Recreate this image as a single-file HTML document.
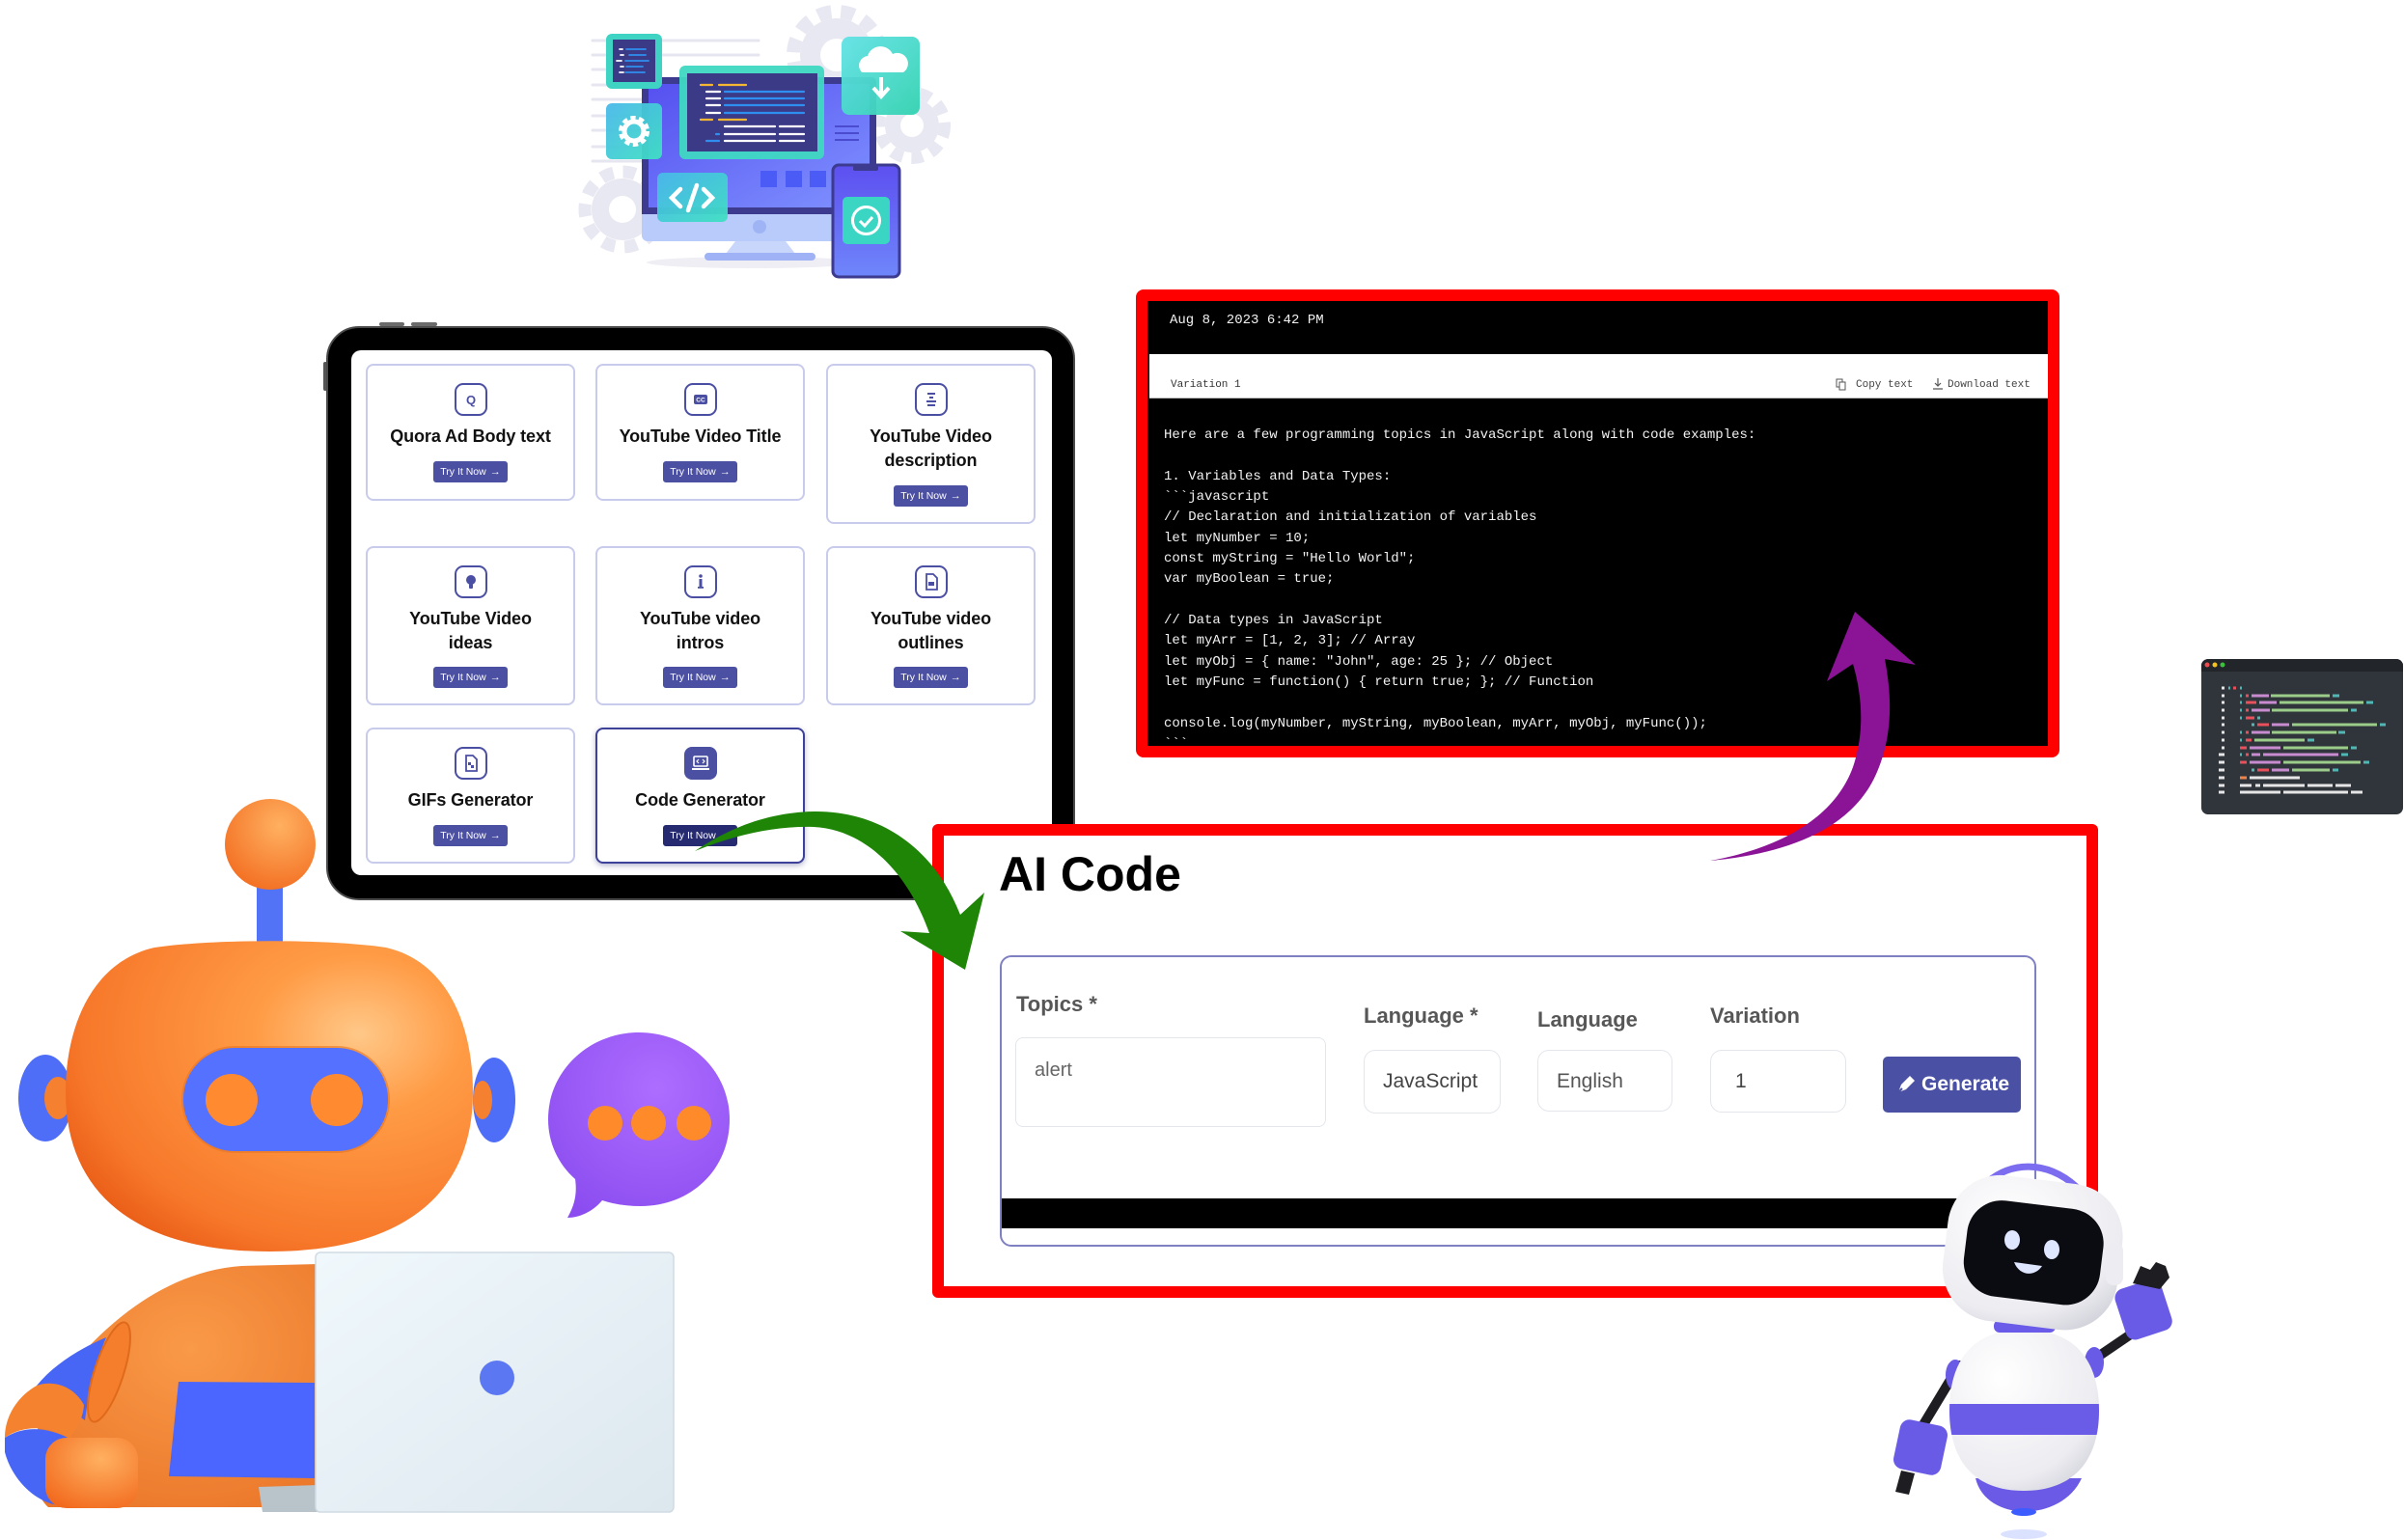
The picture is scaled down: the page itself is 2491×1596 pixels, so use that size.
<!DOCTYPE html>
<html><head><meta charset="utf-8">
<style>
html,body{margin:0;padding:0;background:#fff;}
body{width:2491px;height:1596px;position:relative;overflow:hidden;font-family:"Liberation Sans",sans-serif;}
.abs{position:absolute;}
.card{position:absolute;width:217px;box-sizing:border-box;border:2px solid #c9cbec;border-radius:8px;background:#fff;}
.card .ic{position:absolute;top:18px;left:50%;margin-left:-17px;width:34px;height:34px;}
.card .tt{position:absolute;top:61px;left:0;width:100%;text-align:center;font-weight:bold;font-size:18px;line-height:25px;color:#111;letter-spacing:-0.1px;}
.card .bt{position:absolute;left:50%;margin-left:-38.5px;width:77px;height:22px;background:#4c50a2;border-radius:3px;color:#fff;font-size:10.5px;line-height:22px;text-align:center;white-space:nowrap;}
.card .bt b{font-size:11px;margin-left:4px;}
.lbl{position:absolute;font-weight:bold;font-size:22px;line-height:26px;color:#575757;white-space:nowrap;}
.fbox{position:absolute;box-sizing:border-box;border:1.5px solid #e4e6ec;border-radius:12px;background:#fff;font-size:21px;color:#444;line-height:64px;padding-left:19px;white-space:nowrap;}
pre{margin:0;}
</style></head>
<body>

<!-- Tablet -->
<div class="abs" style="left:393px;top:334px;width:26px;height:4px;background:#6b6b6b;border-radius:2px;"></div>
<div class="abs" style="left:426px;top:334px;width:27px;height:4px;background:#6b6b6b;border-radius:2px;"></div>
<div class="abs" style="left:335px;top:375px;width:4px;height:30px;background:#555;border-radius:2px;"></div>
<div class="abs" style="left:338px;top:338px;width:772px;height:591px;background:#000;border-radius:34px;border:2px solid #4a4a4a;"></div>
<div class="abs" style="left:364px;top:363px;width:726px;height:544px;background:#fff;border-radius:10px;"></div>

<!-- Cards -->
<div class="card" style="left:379px;top:377px;height:142px;">
  <svg class="ic" viewBox="0 0 34 34"><rect x="1" y="1" width="32" height="32" rx="8" fill="none" stroke="#4b4fa3" stroke-width="2"/><text x="17" y="22" text-anchor="middle" font-family="Liberation Sans" font-weight="bold" font-size="13" fill="#4b4fa3">Q</text></svg>
  <div class="tt">Quora Ad Body text</div>
  <div class="bt" style="top:99px;">Try It Now<b>→</b></div>
</div>
<div class="card" style="left:617px;top:377px;height:142px;">
  <svg class="ic" viewBox="0 0 34 34"><rect x="1" y="1" width="32" height="32" rx="8" fill="none" stroke="#4b4fa3" stroke-width="2"/><rect x="10" y="12" width="14" height="10" rx="2" fill="#4b4fa3"/><text x="17" y="19.5" text-anchor="middle" font-family="Liberation Sans" font-weight="bold" font-size="6.5" fill="#fff">CC</text></svg>
  <div class="tt">YouTube Video Title</div>
  <div class="bt" style="top:99px;">Try It Now<b>→</b></div>
</div>
<div class="card" style="left:856px;top:377px;height:166px;">
  <svg class="ic" viewBox="0 0 34 34"><rect x="1" y="1" width="32" height="32" rx="8" fill="none" stroke="#4b4fa3" stroke-width="2"/><path d="M13 11h8M15 15h4M12 19h10M13 23h8" stroke="#4b4fa3" stroke-width="2"/></svg>
  <div class="tt">YouTube Video<br>description</div>
  <div class="bt" style="top:124px;">Try It Now<b>→</b></div>
</div>
<div class="card" style="left:379px;top:566px;height:165px;">
  <svg class="ic" viewBox="0 0 34 34"><rect x="1" y="1" width="32" height="32" rx="8" fill="none" stroke="#4b4fa3" stroke-width="2"/><circle cx="17" cy="15" r="5" fill="#4b4fa3"/><rect x="15" y="19" width="4" height="5" rx="1" fill="#4b4fa3"/></svg>
  <div class="tt">YouTube Video<br>ideas</div>
  <div class="bt" style="top:123px;">Try It Now<b>→</b></div>
</div>
<div class="card" style="left:617px;top:566px;height:165px;">
  <svg class="ic" viewBox="0 0 34 34"><rect x="1" y="1" width="32" height="32" rx="8" fill="none" stroke="#4b4fa3" stroke-width="2"/><circle cx="17" cy="11" r="1.8" fill="#4b4fa3"/><rect x="15.5" y="14" width="3" height="9" fill="#4b4fa3"/><rect x="14" y="22" width="6" height="1.8" fill="#4b4fa3"/></svg>
  <div class="tt">YouTube video<br>intros</div>
  <div class="bt" style="top:123px;">Try It Now<b>→</b></div>
</div>
<div class="card" style="left:856px;top:566px;height:165px;">
  <svg class="ic" viewBox="0 0 34 34"><rect x="1" y="1" width="32" height="32" rx="8" fill="none" stroke="#4b4fa3" stroke-width="2"/><path d="M12 9h7l4 4v12h-11z" fill="none" stroke="#4b4fa3" stroke-width="1.8"/><rect x="14" y="17" width="6" height="4" fill="#4b4fa3"/></svg>
  <div class="tt">YouTube video<br>outlines</div>
  <div class="bt" style="top:123px;">Try It Now<b>→</b></div>
</div>
<div class="card" style="left:379px;top:754px;height:141px;">
  <svg class="ic" viewBox="0 0 34 34"><rect x="1" y="1" width="32" height="32" rx="8" fill="none" stroke="#4b4fa3" stroke-width="2"/><path d="M12 9h7l4 4v12h-11z" fill="none" stroke="#4b4fa3" stroke-width="1.8"/><path d="M14 16h3v3h-3zM17 19h3v3h-3z" fill="#4b4fa3"/></svg>
  <div class="tt">GIFs Generator</div>
  <div class="bt" style="top:99px;">Try It Now<b>→</b></div>
</div>
<div class="card" style="left:617px;top:754px;height:141px;border-color:#3d4199;box-shadow:0 2px 6px rgba(40,40,120,.35);">
  <svg class="ic" viewBox="0 0 34 34"><rect x="0" y="0" width="34" height="34" rx="8" fill="#4c50a2"/><rect x="10" y="10" width="14" height="10" rx="1" fill="none" stroke="#fff" stroke-width="1.6"/><path d="M8 23h18" stroke="#fff" stroke-width="2"/><path d="M15 13l-2 2 2 2M19 13l2 2-2 2" stroke="#fff" stroke-width="1.2" fill="none"/></svg>
  <div class="tt">Code Generator</div>
  <div class="bt" style="top:99px;background:#262a70;">Try It Now<b>→</b></div>
</div>

<!-- Code output red box -->
<div class="abs" style="left:1177px;top:300px;width:957px;height:485px;box-sizing:border-box;border:12px solid #ff0000;border-radius:8px;background:#000;overflow:hidden;">
  <div class="abs" style="left:23px;top:11px;font:14px/18px 'Liberation Mono',monospace;color:#f2f2f2;white-space:pre;">Aug 8, 2023 6:42 PM</div>
  <div class="abs" style="left:2px;top:55px;width:931px;height:45px;background:#fff;border-bottom:1px solid #bbb;"></div>
  <div class="abs" style="left:24px;top:79px;font:11px/16px 'Liberation Mono',monospace;color:#333;white-space:pre;">Variation 1</div>
  <svg class="abs" style="left:713px;top:80px;" width="12" height="14" viewBox="0 0 12 14"><rect x="1" y="1" width="6" height="8" fill="none" stroke="#555" stroke-width="1"/><rect x="4" y="4" width="6" height="8" fill="#fff" stroke="#555" stroke-width="1"/></svg>
  <div class="abs" style="left:734px;top:79px;font:11px/16px 'Liberation Mono',monospace;color:#444;white-space:pre;">Copy text</div>
  <svg class="abs" style="left:813px;top:79px;" width="12" height="14" viewBox="0 0 12 14"><path d="M6 1v8M3 6l3 3 3-3M1 12h10" stroke="#555" stroke-width="1.2" fill="none"/></svg>
  <div class="abs" style="left:829px;top:79px;font:11px/16px 'Liberation Mono',monospace;color:#444;white-space:pre;">Download text</div>
  <pre class="abs" style="left:17px;top:129px;font:14px/21.33px 'Liberation Mono',monospace;color:#f2f2f2;">Here are a few programming topics in JavaScript along with code examples:

1. Variables and Data Types:
&#96;&#96;&#96;javascript
// Declaration and initialization of variables
let myNumber = 10;
const myString = "Hello World";
var myBoolean = true;

// Data types in JavaScript
let myArr = [1, 2, 3]; // Array
let myObj = { name: "John", age: 25 }; // Object
let myFunc = function() { return true; }; // Function

console.log(myNumber, myString, myBoolean, myArr, myObj, myFunc());
&#96;&#96;&#96;</pre>
</div>

<!-- AI Code red box -->
<div class="abs" style="left:966px;top:854px;width:1208px;height:491px;box-sizing:border-box;border:12px solid #ff0000;border-radius:6px;background:#fff;"></div>
<div class="abs" style="left:1035px;top:876px;font:bold 50px/60px 'Liberation Sans',sans-serif;color:#000;white-space:nowrap;">AI Code</div>
<div class="abs" style="left:1036px;top:990px;width:1074px;height:302px;box-sizing:border-box;border:2px solid #7e80c2;border-radius:12px;background:#fff;"></div>
<div class="abs" style="left:1038px;top:1242px;width:1070px;height:31px;background:#000;"></div>
<div class="lbl" style="left:1053px;top:1028px;">Topics *</div>
<div class="lbl" style="left:1413px;top:1040px;">Language *</div>
<div class="lbl" style="left:1593px;top:1044px;">Language</div>
<div class="lbl" style="left:1772px;top:1040px;">Variation</div>
<div class="fbox" style="left:1052px;top:1075px;width:322px;height:93px;border-radius:8px;line-height:26px;padding-top:20px;color:#666;font-size:20px;">alert</div>
<div class="fbox" style="left:1413px;top:1088px;width:142px;height:66px;">JavaScript</div>
<div class="fbox" style="left:1593px;top:1088px;width:140px;height:64px;color:#555;">English</div>
<div class="fbox" style="left:1772px;top:1088px;width:141px;height:65px;padding-left:25px;">1</div>
<div class="abs" style="left:1951px;top:1095px;width:143px;height:58px;background:#4a50a3;border-radius:5px;color:#fff;font-weight:bold;font-size:21px;line-height:58px;white-space:nowrap;">
  <svg class="abs" style="left:12px;top:17px;" width="24" height="24" viewBox="0 0 24 24"><path d="M4 20l3-8 9-9 5 5-9 9z" fill="#fff"/><path d="M4 20l4-4" stroke="#4a50a3" stroke-width="2"/></svg>
  <span style="position:absolute;left:40px;">Generate</span>
</div>

<!-- Graphics overlay -->
<svg class="abs" style="left:0;top:0;" width="2491" height="1596" viewBox="0 0 2491 1596">
<defs>
  <linearGradient id="scr" x1="0" y1="0" x2="1" y2="1"><stop offset="0" stop-color="#5550f0"/><stop offset="1" stop-color="#7f92ff"/></linearGradient>
  <linearGradient id="teal" x1="0" y1="0" x2="1" y2="1"><stop offset="0" stop-color="#49b8ea"/><stop offset="1" stop-color="#3fe0c2"/></linearGradient>
  <linearGradient id="teal2" x1="0" y1="0" x2="1" y2="1"><stop offset="0" stop-color="#62e2e6"/><stop offset="1" stop-color="#33d2b0"/></linearGradient>
  <linearGradient id="phone" x1="0" y1="0" x2="0" y2="1"><stop offset="0" stop-color="#5d4ff0"/><stop offset="1" stop-color="#6f86fb"/></linearGradient>
  <radialGradient id="org" cx="0.72" cy="0.3" r="0.85"><stop offset="0" stop-color="#ffc888"/><stop offset="0.3" stop-color="#ff9b45"/><stop offset="0.8" stop-color="#f7782a"/><stop offset="1" stop-color="#e85a15"/></radialGradient>
  <radialGradient id="org2" cx="0.6" cy="0.3" r="0.8"><stop offset="0" stop-color="#ffb060"/><stop offset="1" stop-color="#f26a1e"/></radialGradient>
  <radialGradient id="org3" cx="0.55" cy="0.35" r="0.8"><stop offset="0" stop-color="#f99a48"/><stop offset="1" stop-color="#ea7428"/></radialGradient>
  <radialGradient id="purp" cx="0.6" cy="0.3" r="0.8"><stop offset="0" stop-color="#ad6dff"/><stop offset="1" stop-color="#8b4cf0"/></radialGradient>
  <linearGradient id="lap" x1="0" y1="0" x2="1" y2="1"><stop offset="0" stop-color="#f0f8fc"/><stop offset="1" stop-color="#dce7ee"/></linearGradient>
  <radialGradient id="wht" cx="0.35" cy="0.3" r="0.9"><stop offset="0" stop-color="#ffffff"/><stop offset="0.7" stop-color="#ececf1"/><stop offset="1" stop-color="#c9c9d3"/></radialGradient>
  <clipPath id="bodyclip"><path d="M2097,1378 C2152,1378 2175,1412 2175,1462 C2175,1512 2150,1545 2097,1545 C2044,1545 2020,1512 2020,1462 C2020,1412 2042,1378 2097,1378 Z"/></clipPath>
</defs>

<!-- ===== Top illustration ===== -->
<g>
  <circle cx="867" cy="57" r="38" fill="#e8e8f2"/>
  <circle cx="867" cy="57" r="45" fill="none" stroke="#e8e8f2" stroke-width="14" stroke-dasharray="14 10"/>
  <circle cx="867" cy="57" r="17" fill="#fff"/>
  <circle cx="945" cy="130" r="28" fill="#e8e8f2"/>
  <circle cx="945" cy="130" r="34" fill="none" stroke="#e8e8f2" stroke-width="12" stroke-dasharray="12 9"/>
  <circle cx="945" cy="130" r="12" fill="#fff"/>
  <circle cx="645" cy="217" r="32" fill="#e8e8f2"/>
  <circle cx="645" cy="217" r="39" fill="none" stroke="#e8e8f2" stroke-width="13" stroke-dasharray="13 10"/>
  <circle cx="645" cy="217" r="14" fill="#fff"/>
  <g stroke="#e6e6f0" stroke-width="3" stroke-linecap="round">
    <path d="M614 42h172M614 57h172M614 72h60M614 88h60M614 103h60M614 120h60M614 135h60M614 152h60M614 167h60"/>
  </g>
  <ellipse cx="780" cy="272" rx="110" ry="6" fill="#eeeef4"/>
  <rect x="665" y="80" width="243" height="148" rx="5" fill="#3c3b8f"/>
  <rect x="672" y="87" width="229" height="128" fill="url(#scr)"/>
  <path d="M665 222h243v22a6 6 0 0 1-6 6h-231a6 6 0 0 1-6-6z" fill="#b9cbfa"/>
  <circle cx="787" cy="235" r="7" fill="#9fb4f5"/>
  <path d="M762 250h52l10 13h-72z" fill="#c8d6fb"/>
  <rect x="730" y="262" width="115" height="8" rx="4" fill="#9fb2f5"/>
  <rect x="788" y="177" width="17" height="17" fill="#4a5cf5"/>
  <rect x="814" y="177" width="17" height="17" fill="#4a5cf5"/>
  <rect x="839" y="177" width="17" height="17" fill="#4a5cf5"/>
  <path d="M865 131h25M865 138h25M865 145h25" stroke="#4b4bd0" stroke-width="2"/>
  <rect x="704" y="68" width="150" height="97" rx="6" fill="#3fd8c2" opacity="0.95"/>
  <rect x="712" y="76" width="135" height="81" fill="#3b3a86"/>
  <g stroke-width="2.2" stroke-linecap="round">
    <path d="M726 88h12M745 88h28M726 124h12M745 124h28" stroke="#f5b731"/>
    <path d="M732 95h14M732 102h14M732 109h14M732 117h14M751 131h52M808 131h25M751 139h52M808 139h25M751 146h52M808 146h25" stroke="#fff"/>
    <path d="M751 95h82M751 102h82M751 109h82M751 117h82M742 139h3M732 146h13" stroke="#2f8ff0"/>
  </g>
  <rect x="628" y="35" width="58" height="57" rx="6" fill="#3ed3c3"/>
  <rect x="635" y="41" width="44" height="44" fill="#3b3a86"/>
  <g stroke-width="1.8" stroke-linecap="round">
    <path d="M642 51h3M643 57h3M639 63h5M643 69h3M642 75h4" stroke="#fff"/>
    <path d="M649 51h20M652 57h17M648 63h24M649 69h17M648 75h20" stroke="#2f8ff0"/>
  </g>
  <rect x="628" y="107" width="58" height="58" rx="6" fill="url(#teal)" opacity="0.95"/>
  <circle cx="657" cy="136" r="13" fill="none" stroke="#fff" stroke-width="6" stroke-dasharray="5 3.2"/>
  <circle cx="657" cy="136" r="10" fill="none" stroke="#fff" stroke-width="5"/>
  <rect x="681" y="179" width="73" height="51" rx="6" fill="url(#teal)" opacity="0.95"/>
  <path d="M705 196l-9 9 9 9M729 196l9 9-9 9M722 192l-9 26" stroke="#fff" stroke-width="4.5" fill="none" stroke-linecap="round"/>
  <rect x="872" y="38" width="81" height="81" rx="8" fill="url(#teal2)" opacity="0.95"/>
  <path d="M893 75a10 10 0 0 1 6-17a14 14 0 0 1 26-2a11 11 0 0 1 11 19z" fill="#fff"/>
  <path d="M913 80v18M905 91l8 9 8-9" stroke="#fff" stroke-width="4" fill="none"/>
  <rect x="863" y="171" width="69" height="116" rx="6" fill="url(#phone)" stroke="#3c3b8f" stroke-width="3"/>
  <rect x="884" y="172" width="26" height="5" rx="2" fill="#3c3b8f"/>
  <rect x="873" y="204" width="49" height="49" rx="5" fill="#3ad6c3"/>
  <circle cx="897.5" cy="228.5" r="14" stroke="#fff" stroke-width="3" fill="none"/>
  <path d="M891 229l5 5 8-9" stroke="#fff" stroke-width="3" fill="none"/>
</g>

<!-- ===== Orange robot ===== -->
<g>
  <rect x="266" y="915" width="27" height="72" fill="#5273f5"/>
  <circle cx="280" cy="875" r="47" fill="url(#org2)"/>
  <ellipse cx="47" cy="1138" rx="28" ry="45" fill="#4f6ef7"/>
  <ellipse cx="60" cy="1138" rx="14" ry="22" fill="#f58030"/>
  <ellipse cx="512" cy="1140" rx="22" ry="44" fill="#4f6ef7"/>
  <ellipse cx="500" cy="1140" rx="10" ry="20" fill="#f58030"/>
  <path d="M160,982 C220,973 340,973 400,982 C462,996 490,1060 490,1132 C490,1236 420,1297 279,1297 C140,1297 68,1236 68,1132 C68,1060 98,996 160,982 Z" fill="url(#org)"/>
  <rect x="188" y="1084" width="216" height="111" rx="55" fill="#e8741f" opacity="0.6"/>
  <rect x="190" y="1086" width="212" height="107" rx="53" fill="#5472ff"/>
  <circle cx="240" cy="1140" r="27" fill="#ff8a30"/>
  <circle cx="349" cy="1140" r="27" fill="#ff8a30"/>
  <!-- body -->
  <path d="M50,1562 C25,1540 30,1465 70,1420 C110,1372 170,1318 250,1312 L330,1310 L330,1562 Z" fill="url(#org3)"/>
  <path d="M185,1432 L326,1433 L326,1532 L175,1530 Z" fill="#4a66ff"/>
  <!-- arm -->
  <path d="M110,1386 C82,1398 56,1414 38,1436 L88,1472 C92,1440 100,1410 110,1386 Z" fill="#4866f6"/>
  <g transform="rotate(18 113 1422)"><ellipse cx="113" cy="1422" rx="15" ry="54" fill="#f47e2c" stroke="#e06a1c" stroke-width="2"/></g>
  <path d="M38,1436 C55,1430 76,1436 87,1456 C86,1470 80,1480 72,1490 C50,1478 25,1476 5,1490 C5,1466 20,1446 38,1436 Z" fill="#f5822f"/>
  <path d="M5,1490 C25,1477 50,1479 72,1491 L60,1560 C35,1556 12,1532 5,1505 Z" fill="#4866f6"/>
  <rect x="47" y="1490" width="96" height="73" rx="22" fill="url(#org2)"/>
  <!-- laptop -->
  <path d="M268,1541 L330,1539 L330,1567 L272,1567 Z" fill="#b9c3ca"/>
  <rect x="327" y="1298" width="371" height="269" rx="5" fill="url(#lap)" stroke="#d0dbe3" stroke-width="1.5"/>
  <circle cx="515" cy="1428" r="18" fill="#5b78f2"/>
  <!-- speech bubble -->
  <path d="M662,1070 C715,1070 756,1110 756,1160 C756,1212 716,1250 664,1250 C650,1250 636,1248 624,1244 C614,1256 600,1262 588,1262 C596,1248 598,1236 596,1222 C578,1206 568,1184 568,1160 C568,1110 610,1070 662,1070 Z" fill="url(#purp)"/>
  <circle cx="627" cy="1164" r="18" fill="#ff8a2a"/>
  <circle cx="672" cy="1164" r="18" fill="#ff8a2a"/>
  <circle cx="719" cy="1164" r="18" fill="#ff8a2a"/>
</g>

<!-- ===== Small white robot ===== -->
<g>
  <ellipse cx="2097" cy="1590" rx="24" ry="5" fill="#dbe2ff"/>
  <line x1="2030" y1="1415" x2="1992" y2="1478" stroke="#1d1d22" stroke-width="10" stroke-linecap="round"/>
  <g transform="rotate(12 1990 1500)"><rect x="1965" y="1474" width="50" height="52" rx="10" fill="#6a5be6"/></g>
  <path d="M1970,1524 l-6,22 l14,3 l6,-22z" fill="#1d1d22"/>
  <line x1="2165" y1="1412" x2="2212" y2="1380" stroke="#1d1d22" stroke-width="10" stroke-linecap="round"/>
  <g transform="rotate(-18 2220 1357)"><rect x="2196" y="1330" width="50" height="55" rx="10" fill="#6a5be6"/></g>
  <path d="M2210,1330 l8,-18 l10,4 l6,-8 l10,4 l4,12 l-10,12z" fill="#1d1d22"/>
  <ellipse cx="2026" cy="1425" rx="10" ry="16" fill="#6a5be6"/>
  <ellipse cx="2170" cy="1412" rx="10" ry="16" fill="#6a5be6"/>
  <path d="M2047,1532 C2058,1578 2136,1578 2157,1532 Z" fill="#6a5ae6"/>
  <ellipse cx="2097" cy="1567" rx="13" ry="4" fill="#3d5cff"/>
  <path d="M2097,1378 C2152,1378 2175,1412 2175,1462 C2175,1512 2150,1545 2097,1545 C2044,1545 2020,1512 2020,1462 C2020,1412 2042,1378 2097,1378 Z" fill="url(#wht)"/>
  <g clip-path="url(#bodyclip)"><rect x="2010" y="1455" width="180" height="32" fill="#6b5ce8"/></g>
  <rect x="2066" y="1368" width="64" height="13" rx="6" fill="#6a5ce8"/>
  <path d="M2040,1265 C2045,1200 2150,1170 2192,1298" stroke="#7b6cf0" stroke-width="7" fill="none"/>
  <g transform="rotate(7 2105 1300)">
    <rect x="2015" y="1222" width="182" height="152" rx="55" fill="url(#wht)"/>
    <rect x="2036" y="1248" width="142" height="100" rx="36" fill="#0b0b12"/>
  </g>
  <rect x="2182" y="1288" width="18" height="44" rx="8" fill="#ececf2"/>
  <ellipse cx="2085" cy="1285" rx="8" ry="10" fill="#dfe6ff"/>
  <ellipse cx="2126" cy="1295" rx="8" ry="10" fill="#dfe6ff"/>
  <path d="M2087,1308 C2092,1322 2108,1324 2116,1312 Z" fill="#dfe6ff"/>
</g>

<!-- ===== Code thumbnail ===== -->
<g>
  <rect x="2281" y="683" width="209" height="161" rx="7" fill="#30343b"/>
  <path d="M2288,683 h195 a7 7 0 0 1 7 7 v6 h-209 v-6 a7 7 0 0 1 7-7z" fill="#22252a"/>
  <circle cx="2287" cy="689" r="2.5" fill="#ee4c4c"/>
  <circle cx="2295" cy="689" r="2.5" fill="#f3c221"/>
  <circle cx="2303" cy="689" r="2.5" fill="#3cc13c"/>
  <g stroke-width="3">
    <path stroke="#e6e6e6" d="M2302 713h3M2302 721h3M2302 728h3M2302 736h3M2302 744h3M2302 751h3M2302 759h3M2302 767h3M2302 775h3M2299 782h6M2299 790h6M2299 798h6M2299 806h6M2299 814h6M2299 821h6M2331 806h52M2321 814h12M2337 814h5M2345 814h43M2391 814h26M2420 814h16M2321 821h42M2366 821h67M2436 821h12"/>
    <path stroke="#4fb8b5" d="M2309 713h2M2321 713h2M2321 721h2M2417 721h7M2321 728h2M2452 728h7M2321 736h2M2436 736h6M2321 744h2M2339 744h3M2333 751h3M2466 751h6M2321 759h2M2423 759h7M2321 767h2M2391 767h7M2436 775h6M2321 782h2M2426 782h7M2449 790h6M2333 798h3M2417 798h6"/>
    <path stroke="#e8505b" d="M2314 713h3M2327 721h3M2327 728h11M2327 736h3M2327 744h9M2339 751h12M2327 759h3M2327 767h6M2321 775h7M2327 782h3M2321 790h7M2339 798h12"/>
    <path stroke="#c98bd0" d="M2333 721h18M2341 728h18M2333 736h19M2354 751h18M2333 759h19M2331 775h32M2333 782h9M2345 782h78M2331 790h32M2354 798h18"/>
    <path stroke="#9ccc8a" d="M2353 721h61M2362 728h87M2354 736h79M2375 751h88M2354 759h67M2336 767h52M2366 775h67M2366 790h80M2375 798h39"/>
    <path stroke="#f0834a" d="M2321 806h7"/>
  </g>
</g>

<!-- ===== Arrows ===== -->
<path d="M720,882 C760,855 800,842 843,841 C905,840 965,872 995,948 L1020,925 L1000,1005 L933,965 L963,967 C942,908 900,860 843,857 C800,856 760,866 720,882 Z" fill="#1e8506"/>
<path d="M1772,892 C1850,885 1920,860 1945,800 C1962,760 1960,720 1953,683 L1985,689 L1922,634 L1893,706 L1920,688 C1930,722 1932,760 1920,795 C1900,850 1840,880 1772,892 Z" fill="#8a1396"/>
</svg>

</body></html>
